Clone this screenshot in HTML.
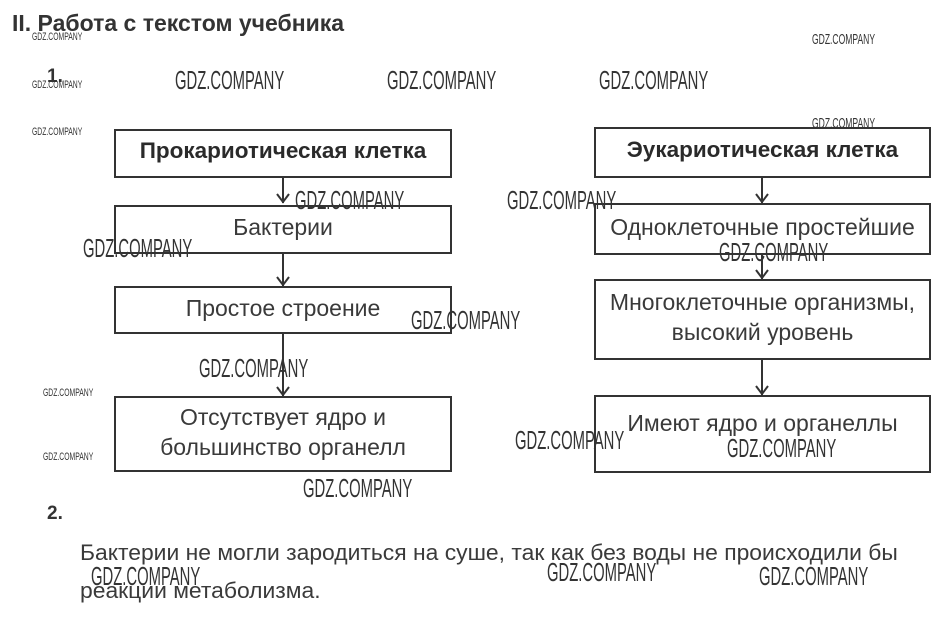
<!DOCTYPE html>
<html><head><meta charset="utf-8"><style>
body{margin:0;width:942px;height:644px;background:#fff;position:relative;overflow:hidden;font-family:"Liberation Sans",sans-serif;color:#333}
.b{position:absolute;border:2px solid #333;box-sizing:border-box;display:flex;align-items:center;justify-content:center;text-align:center;font-size:23px;line-height:30px;color:#3a3a3a;padding-bottom:5px}
.bold{font-weight:bold;color:#2a2a2a;font-size:22.5px}
.w{position:absolute;white-space:nowrap;transform-origin:0 0;color:#333;font-family:"Liberation Sans",sans-serif}
.L{font-size:26px;transform:scaleX(0.57)}
.S{font-size:11px;transform:scaleX(0.62)}
.t{position:absolute;white-space:nowrap}
</style></head><body>
<div class="t" style="left:12px;top:10px;font-size:23px;font-weight:bold;color:#333">II. Работа с текстом учебника</div>
<div class="t" style="left:47px;top:66px;font-size:19px;font-weight:bold">1.</div>
<div class="t" style="left:47px;top:503px;font-size:19px;font-weight:bold">2.</div>

<svg style="position:absolute;left:0;top:0" width="942" height="644">
<g stroke="#333" stroke-width="2" fill="none">
<line x1="283" y1="177" x2="283" y2="203"/><polyline points="277,194 283,202 289,194"/>
<line x1="283" y1="253" x2="283" y2="286"/><polyline points="277,277 283,285 289,277"/>
<line x1="283" y1="333" x2="283" y2="396"/><polyline points="277,387 283,395 289,387"/>
<line x1="762" y1="177" x2="762" y2="203"/><polyline points="756,194 762,202 768,194"/>
<line x1="762" y1="254" x2="762" y2="279"/><polyline points="756,270 762,278 768,270"/>
<line x1="762" y1="359" x2="762" y2="395"/><polyline points="756,386 762,394 768,386"/>
</g></svg>

<div class="b bold" style="left:114px;top:129px;width:338px;height:49px">Прокариотическая клетка</div>
<div class="b" style="left:114px;top:205px;width:338px;height:49px">Бактерии</div>
<div class="b" style="left:114px;top:286px;width:338px;height:48px">Простое строение</div>
<div class="b" style="left:114px;top:396px;width:338px;height:76px">Отсутствует ядро и<br>большинство органелл</div>

<div class="b bold" style="left:594px;top:127px;width:337px;height:51px">Эукариотическая клетка</div>
<div class="b" style="left:594px;top:203px;width:337px;height:52px">Одноклеточные простейшие</div>
<div class="b" style="left:594px;top:279px;width:337px;height:81px">Многоклеточные организмы,<br>высокий уровень</div>
<div class="b" style="left:594px;top:395px;width:337px;height:78px;align-items:flex-start;padding-top:11px">Имеют ядро и органеллы</div>

<div class="t" style="left:80px;top:534px;font-size:22px;line-height:38px;color:#3a3a3a;transform:scaleX(1.04);transform-origin:0 0">Бактерии не могли зародиться на суше, так как без воды не происходили бы<br>реакции метаболизма.</div>

<div class="w S" style="left:32px;top:31px">GDZ.COMPANY</div>
<div class="w S" style="left:32px;top:79px">GDZ.COMPANY</div>
<div class="w S" style="left:32px;top:126px">GDZ.COMPANY</div>
<div class="w S" style="left:43px;top:387px">GDZ.COMPANY</div>
<div class="w S" style="left:43px;top:451px">GDZ.COMPANY</div>
<div class="w L" style="left:812px;top:31px;font-size:15px">GDZ.COMPANY</div>
<div class="w L" style="left:812px;top:115px;font-size:15px">GDZ.COMPANY</div>
<div class="w L" style="left:175px;top:65px">GDZ.COMPANY</div>
<div class="w L" style="left:387px;top:65px">GDZ.COMPANY</div>
<div class="w L" style="left:599px;top:65px">GDZ.COMPANY</div>
<div class="w L" style="left:295px;top:185px">GDZ.COMPANY</div>
<div class="w L" style="left:507px;top:185px">GDZ.COMPANY</div>
<div class="w L" style="left:83px;top:233px">GDZ.COMPANY</div>
<div class="w L" style="left:719px;top:237px">GDZ.COMPANY</div>
<div class="w L" style="left:411px;top:305px">GDZ.COMPANY</div>
<div class="w L" style="left:199px;top:353px">GDZ.COMPANY</div>
<div class="w L" style="left:515px;top:425px">GDZ.COMPANY</div>
<div class="w L" style="left:727px;top:433px">GDZ.COMPANY</div>
<div class="w L" style="left:303px;top:473px">GDZ.COMPANY</div>
<div class="w L" style="left:91px;top:561px">GDZ.COMPANY</div>
<div class="w L" style="left:547px;top:557px">GDZ.COMPANY</div>
<div class="w L" style="left:759px;top:561px">GDZ.COMPANY</div>
</body></html>
